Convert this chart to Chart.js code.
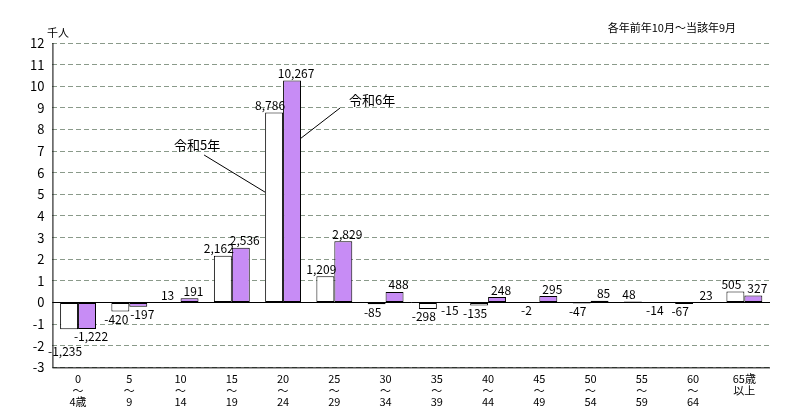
<!DOCTYPE html>
<html><head><meta charset="utf-8">
<script src="https://cdn.jsdelivr.net/npm/chart.js@4"></script>
<style>body{margin:0;background:#fff}#w{width:791px;height:414px}</style>
</head><body><div id="w"><canvas id="c"></canvas></div>
<script>
const categories=[["0","〜","4歳"],["5","〜","9"],["10","〜","14"],["15","〜","19"],["20","〜","24"],["25","〜","29"],["30","〜","34"],["35","〜","39"],["40","〜","44"],["45","〜","49"],["50","〜","54"],["55","〜","59"],["60","〜","64"],["65歳","以上"]];
const r5=[-1235,-420,13,2162,8786,1209,-85,-298,-135,-2,-47,48,-67,505];
const r6=[-1222,-197,191,2536,10267,2829,488,-15,248,295,85,-14,23,327];
const seriesNames=["令和5年","令和6年"];
const yTicks=[-3,-2,-1,0,1,2,3,4,5,6,7,8,9,10,11,12];
const F='"Noto Sans CJK JP", sans-serif';
const fmt=v=>(v<0?'-':'')+Math.abs(v).toLocaleString('en-US');
const axes={id:'axes',beforeDatasetsDraw(ch){const c=ch.ctx,a=ch.chartArea,y=ch.scales.y;
 c.save();c.strokeStyle='#000';c.lineWidth=1;c.beginPath();
 const z=Math.round(y.getPixelForValue(0))+0.5;c.moveTo(a.left,z);c.lineTo(a.right,z);
 c.moveTo(a.left+0.5,a.top);c.lineTo(a.left+0.5,a.bottom);c.moveTo(a.left,a.bottom+0.5);c.lineTo(a.right,a.bottom+0.5);c.stroke();c.restore();}};
const lab={id:'lab',afterDatasetsDraw(ch){
 const c=ch.ctx,x=ch.scales.x,y=ch.scales.y;
 c.save();c.font='12px '+F;c.fillStyle='#000';c.textAlign='center';
 ch.data.datasets.forEach((ds,di)=>{const m=ch.getDatasetMeta(di);
  m.data.forEach((b,i)=>{const v=ds.data[i]*1000;const px=b.x+(di==0?-4:4);
   if(v>=0){c.textBaseline='bottom';c.fillText(fmt(v),px,b.y-1);}else{c.textBaseline='top';c.fillText(fmt(v),px,b.y+(di==0&&i==0?16:2));}});});
 const m0=ch.getDatasetMeta(0).data[4],m1=ch.getDatasetMeta(1).data[4];
 c.font='13px '+F;c.strokeStyle='#000';c.lineWidth=1;
 c.textBaseline='middle';c.fillText(seriesNames[0],m0.x-77,145);
 c.beginPath();c.moveTo(m0.x-70,155);c.lineTo(m0.x-m0.width/2,y.getPixelForValue(5.1));c.stroke();
 c.fillText(seriesNames[1],m1.x+80,100);
 c.beginPath();c.moveTo(m1.x+48,108);c.lineTo(m1.x+m1.width/2,y.getPixelForValue(7.6));c.stroke();
 c.font='11px '+F;c.textAlign='left';c.fillText('千人',47,33);
 c.textAlign='right';c.fillText('各年前年10月〜当該年9月',736,28);
 c.restore();}};
new Chart(document.getElementById('c'),{type:'bar',
 data:{labels:categories,datasets:[
  {label:seriesNames[0],data:r5.map(v=>v/1000),backgroundColor:'#fff',borderColor:'#000',borderWidth:1,borderSkipped:false},
  {label:seriesNames[1],data:r6.map(v=>v/1000),backgroundColor:'#c78cf5',borderColor:'#000',borderWidth:1,borderSkipped:false}]},
 options:{responsive:true,maintainAspectRatio:false,animation:false,
  layout:{padding:{top:43,right:21,bottom:0,left:22}},
  plugins:{legend:{display:false},tooltip:{enabled:false}},
  datasets:{bar:{categoryPercentage:0.7,barPercentage:1}},
  scales:{
   x:{grid:{display:false,drawTicks:false},border:{display:false},ticks:{color:'#000',font:{family:F,size:11,lineHeight:1.05},padding:6,maxRotation:0,autoSkip:false}},
   y:{min:-3,max:12,afterBuildTicks(a){a.ticks=yTicks.map(v=>({value:v}));},
    grid:{color:'#8a9a8a',lineWidth:1,drawTicks:false},
    border:{display:false,dash:[5,3]},
    ticks:{color:'#000',font:{family:F,size:13},padding:8}}}},
 plugins:[axes,lab]});
</script></body></html>
